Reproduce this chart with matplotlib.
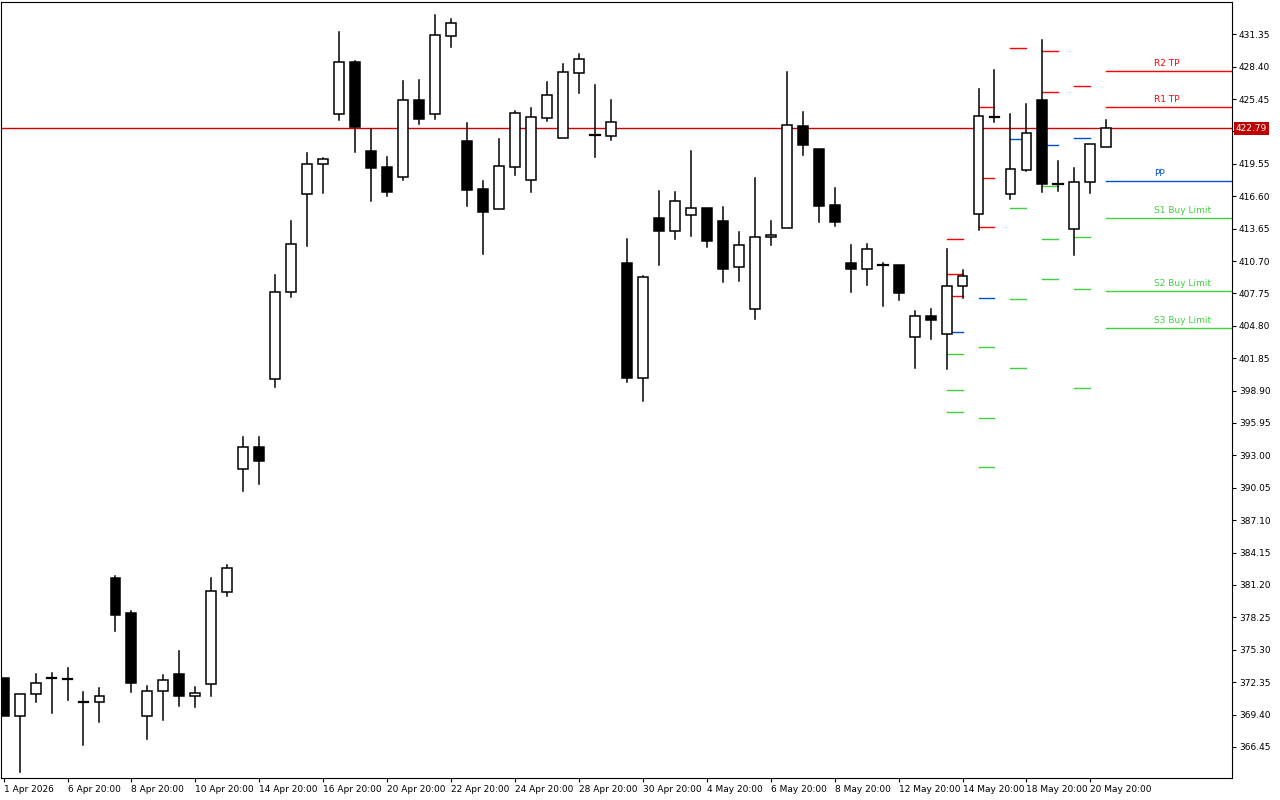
import numpy as np
import matplotlib
matplotlib.use('Agg')
import matplotlib.pyplot as plt

# OHLC values (12h candles)
opens = [372.73, 369.25, 371.25, 372.65, 372.60, 370.56, 370.56, 381.79, 378.63, 369.25,
         371.58, 373.11, 371.11, 372.18, 380.58, 391.77, 393.76, 399.94, 407.88, 416.78,
         419.51, 424.06, 428.82, 420.72, 419.26, 418.38, 425.36, 424.12, 431.16, 421.63,
         417.26, 415.46, 419.29, 418.10, 423.75, 421.93, 427.85, 422.18, 422.11, 410.49,
         400.07, 414.59, 413.46, 414.92, 415.50, 414.32, 410.13, 406.30, 412.86, 413.73,
         422.97, 420.87, 415.77, 410.49, 410.00, 410.31, 410.31, 403.81, 405.66, 404.03,
         408.45, 414.95, 423.79, 416.77, 418.99, 425.36, 417.69, 413.59, 417.87, 421.06]
highs = [372.73, 371.25, 373.11, 373.20, 373.66, 371.43, 371.80, 382.02, 378.86, 372.04,
         372.97, 375.15, 371.90, 381.79, 383.04, 394.64, 394.69, 409.41, 414.37, 420.55,
         420.08, 431.56, 428.91, 422.72, 420.17, 427.09, 427.18, 433.10, 432.74, 423.24,
         417.99, 421.81, 424.36, 424.63, 427.00, 428.64, 429.55, 426.73, 425.36, 412.70,
         409.34, 417.08, 416.98, 420.72, 415.50, 415.62, 413.34, 418.26, 414.34, 427.91,
         424.27, 420.87, 417.35, 412.16, 412.25, 410.52, 410.31, 406.15, 406.33, 411.82,
         409.88, 426.34, 428.10, 424.09, 425.00, 430.83, 419.81, 419.14, 421.33, 423.54]
lows = [369.25, 364.15, 370.51, 369.58, 370.74, 366.60, 368.70, 377.00, 371.43, 367.17,
        368.93, 370.18, 370.05, 371.11, 380.16, 389.77, 390.37, 399.19, 407.41, 412.09,
        416.92, 423.54, 420.65, 416.16, 416.65, 418.08, 423.18, 423.63, 430.22, 415.71,
        411.34, 415.46, 418.53, 416.98, 423.45, 421.93, 425.97, 420.20, 421.72, 399.71,
        397.98, 410.36, 412.70, 412.98, 411.98, 408.79, 408.88, 405.42, 412.16, 413.73,
        420.35, 414.25, 413.89, 407.88, 408.52, 406.60, 407.15, 400.96, 403.60, 400.84,
        407.30, 413.52, 423.39, 416.37, 418.93, 417.01, 417.10, 411.27, 416.87, 421.06]
closes = [369.25, 371.25, 372.27, 372.72, 372.60, 370.56, 371.11, 378.44, 372.27, 371.58,
          372.55, 371.11, 371.34, 380.63, 382.71, 393.76, 392.46, 407.88, 412.24, 419.53,
          419.96, 428.80, 422.93, 419.20, 417.01, 425.36, 423.66, 431.26, 432.35, 417.17,
          415.19, 419.35, 424.15, 423.79, 425.79, 427.89, 429.07, 422.18, 423.33, 400.07,
          409.22, 413.46, 416.14, 415.50, 412.52, 409.97, 412.13, 412.86, 413.04, 423.06,
          421.29, 415.74, 414.25, 410.00, 411.77, 410.31, 407.81, 405.66, 405.35, 408.45,
          409.31, 423.88, 423.79, 419.05, 422.33, 417.69, 417.69, 417.87, 421.33, 422.79]

tick_idx = [0, 4, 8, 12, 16, 20, 24, 28, 32, 36, 40, 44, 48, 52, 56, 60, 64, 68]
tick_labels = ['1 Apr 2026', '6 Apr 20:00', '8 Apr 20:00', '10 Apr 20:00', '14 Apr 20:00',
               '16 Apr 20:00', '20 Apr 20:00', '22 Apr 20:00', '24 Apr 20:00', '28 Apr 20:00',
               '30 Apr 20:00', '4 May 20:00', '6 May 20:00', '8 May 20:00', '12 May 20:00',
               '14 May 20:00', '18 May 20:00', '20 May 20:00']
y_ticks = [366.45, 369.40, 372.35, 375.30, 378.25, 381.20, 384.15, 387.10, 390.05, 393.00,
           395.95, 398.90, 401.85, 404.80, 407.75, 410.70, 413.65, 416.60, 419.55, 422.50,
           425.45, 428.40, 431.35]

# daily pivot dashes: (start candle, levels, colors)
pivot_start = [59, 61, 63, 65, 67]
pivot_levels = [
    [412.68, 409.49, 407.49, 404.21, 402.20, 398.93, 396.92],
    [424.70, 418.23, 413.77, 407.30, 402.84, 396.38, 391.91],
    [430.07, 421.78, 415.50, 407.21, 400.93],
    [429.80, 426.06, 421.24, 417.50, 412.68, 409.03],
    [426.61, 421.88, 412.86, 408.12, 399.11],
]
pivot_colors = [
    ['r', 'r', 'r', 'b', 'g', 'g', 'g'],
    ['r', 'r', 'r', 'b', 'g', 'g', 'g'],
    ['r', 'b', 'g', 'g', 'g'],
    ['r', 'r', 'b', 'g', 'g', 'g'],
    ['r', 'b', 'g', 'g', 'g'],
]
cmap = {'r': '#ff0000', 'b': '#0050d0', 'g': '#40d040'}

level_names = ['R2 TP', 'R1 TP', 'PP', 'S1 Buy Limit', 'S2 Buy Limit', 'S3 Buy Limit']
level_values = [427.98, 424.70, 417.96, 414.59, 407.94, 404.57]
level_colors = ['#ff0000', '#ff0000', '#0050d0', '#40d040', '#40d040', '#40d040']
last_price = 422.79

fig = plt.figure(figsize=(12.8, 8), dpi=100)
ax = fig.add_axes([0.001, 0.0275, 0.9615, 0.97])

w = 0.62
for i in range(len(opens)):
    o, h, l, c = opens[i], highs[i], lows[i], closes[i]
    top, bot = max(o, c), min(o, c)
    ax.plot([i, i], [top, h], color='black', lw=1.1, zorder=2)
    ax.plot([i, i], [l, bot], color='black', lw=1.1, zorder=2)
    if top - bot < 0.15:
        ax.plot([i - w / 2, i + w / 2], [c, c], color='black', lw=1.6, zorder=3)
    else:
        face = 'white' if c > o else 'black'
        ax.add_patch(plt.Rectangle((i - w / 2, bot), w, top - bot, facecolor=face,
                                   edgecolor='black', lw=1.1, zorder=3))

for s, lv, cl in zip(pivot_start, pivot_levels, pivot_colors):
    for v, k in zip(lv, cl):
        ax.plot([s, s + 1], [v, v], color=cmap[k], lw=1, zorder=1)

ax.axhline(last_price, color='#d00000', lw=1, zorder=1)
for name, v, col in zip(level_names, level_values, level_colors):
    ax.plot([69, 76.9], [v, v], color=col, lw=1, zorder=1)
    ax.text(72, v + 0.3, name, color=col, fontsize=6.5, va='bottom', ha='left')

ax.set_xlim(-0.144, 76.86)
ax.set_ylim(363.62, 434.29)
ax.yaxis.tick_right()
ax.set_yticks(y_ticks)
ax.set_yticklabels(['%.2f' % v if v != 422.50 else '' for v in y_ticks], fontsize=6.5)
ax.set_xticks(tick_idx)
ax.set_xticklabels(tick_labels, fontsize=6.5, ha='left')
ax.tick_params(axis='both', length=3, width=0.8, pad=2)
for sp in ax.spines.values():
    sp.set_linewidth(0.8)
ax.text(1.003, last_price, '%.2f' % last_price, transform=ax.get_yaxis_transform(),
        fontsize=6.5, color='white', va='center', ha='left',
        bbox=dict(boxstyle='square,pad=0.2', facecolor='#c00000', edgecolor='none'))

fig.savefig('out.png', dpi=100)
